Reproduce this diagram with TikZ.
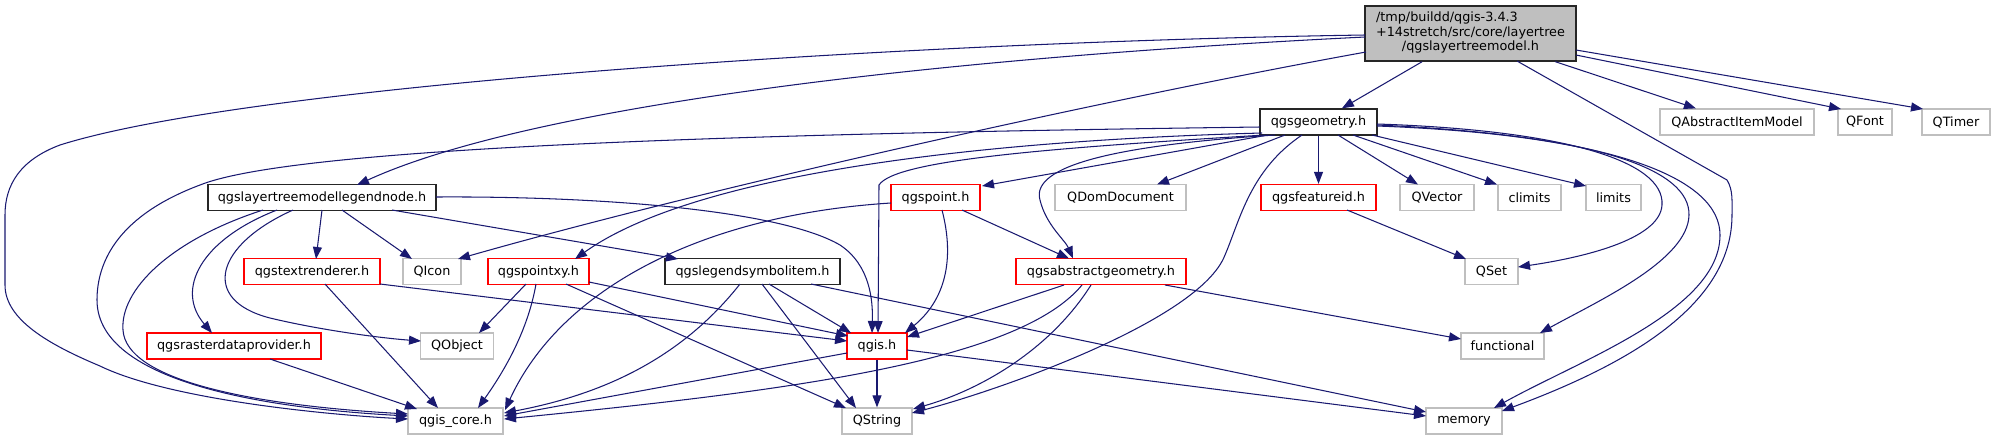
\documentclass[tikz,border=0pt]{standalone}
\usepackage{fontspec}
\setmainfont{DejaVu Sans}
\usetikzlibrary{arrows.meta}
\definecolor{edgeblue}{HTML}{191970}
\definecolor{greybox}{HTML}{BFBFBF}
\begin{document}
\begin{tikzpicture}[x=1pt,y=-1pt,
  box/.style={rectangle, draw, line width=1.3pt, minimum height=26pt, inner sep=0pt, fill=white,
              font=\fontsize{12.8}{14.5}\selectfont},
  gbox/.style={box, draw=greybox},
  rbox/.style={box, draw=red},
  blkbox/.style={box, draw=black!85},
  dep/.style={draw=edgeblue, line width=1.05pt, -{Triangle[length=12pt,width=9pt]}},
]
\useasboundingbox (0,0) rectangle (1995,440);

% row 0
\node[blkbox, fill=greybox, minimum width=211pt, minimum height=55pt] (root) at (1470.5,33.5)
  {\begin{tabular}{@{}l@{}}/tmp/buildd/qgis-3.4.3\\+14stretch/src/core/layertree\\\multicolumn{1}{@{}c@{}}{/qgslayertreemodel.h}\end{tabular}};
% row 1
\node[blkbox, minimum width=117pt] (geom) at (1318.5,122) {qgsgeometry.h};
\node[gbox, minimum width=154pt] (qaim) at (1737,122) {QAbstractItemModel};
\node[gbox, minimum width=54pt] (qfont) at (1865,122) {QFont};
\node[gbox, minimum width=68pt] (qtimer) at (1956,122) {QTimer};
% row 2
\node[blkbox, minimum width=228pt] (legend) at (322,197.5) {qgslayertreemodellegendnode.h};
\node[rbox, minimum width=89pt] (qpoint) at (935.5,197.5) {qgspoint.h};
\node[gbox, minimum width=131pt] (qdom) at (1120.5,197.5) {QDomDocument};
\node[rbox, minimum width=115pt] (featid) at (1318.5,197.5) {qgsfeatureid.h};
\node[gbox, minimum width=74pt] (qvector) at (1437,197.5) {QVector};
\node[gbox, minimum width=63pt] (climits) at (1529.5,197.5) {climits};
\node[gbox, minimum width=55pt] (limits) at (1613.5,197.5) {limits};
% row 3
\node[rbox, minimum width=136pt] (textr) at (312,271.5) {qgstextrenderer.h};
\node[gbox, minimum width=58pt] (qicon) at (432,271.5) {QIcon};
\node[rbox, minimum width=101pt] (pointxy) at (538.5,271.5) {qgspointxy.h};
\node[blkbox, minimum width=175pt] (legsym) at (752.5,271.5) {qgslegendsymbolitem.h};
\node[rbox, minimum width=170pt] (absgeom) at (1101,271.5) {qgsabstractgeometry.h};
\node[gbox, minimum width=53pt] (qset) at (1491.5,271.5) {QSet};
% row 4
\node[rbox, minimum width=174pt] (raster) at (234,346) {qgsrasterdataprovider.h};
\node[gbox, minimum width=73pt] (qobject) at (457,346) {QObject};
\node[rbox, minimum width=60pt] (qgish) at (877,346) {qgis.h};
\node[gbox, minimum width=83pt] (functional) at (1502.5,346) {functional};
% row 5
\node[gbox, minimum width=95pt] (qgiscore) at (455.5,421) {qgis\_core.h};
\node[gbox, minimum width=70pt] (qstring) at (877,421) {QString};
\node[gbox, minimum width=76pt] (memory) at (1464,421) {memory};

% root edges
\draw[dep] ([shift={(-105.5,1.5)}]root.center) .. controls (900,42) and (250,85) .. (60,145)
  .. controls (20,160) and (5,185) .. (5,215) -- (5,285)
  .. controls (5,320) and (50,345) .. (100,366)
  .. controls (170,400) and (330,415) .. ([shift={(-47.5,-2)}]qgiscore.center);
\draw[dep] ([shift={(-105.5,3.5)}]root.center) .. controls (900,60) and (520,110) .. ([shift={(35,-12.5)}]legend.center);
\draw[dep] ([shift={(-104.5,18.5)}]root.center) .. controls (1100,100) and (700,190) .. ([shift={(26,-12.5)}]qicon.center);
\draw[dep] (root) -- (geom);
\draw[dep] (root) -- (qaim);
\draw[dep] ([shift={(105.5,21.5)}]root.center) -- ([shift={(-24,-13)}]qfont.center);
\draw[dep] ([shift={(105.5,16.5)}]root.center) -- ([shift={(-33,-13)}]qtimer.center);
\draw[dep] ([shift={(46.5,27.5)}]root.center) -- (1727,180) .. controls (1733,190) and (1732,200) .. (1732,215)
  .. controls (1732,300) and (1640,360) .. ([shift={(38,-10)}]memory.center);

% qgsgeometry edges
\draw[dep] ([shift={(-58.5,5)}]geom.center) .. controls (800,133) and (300,145) .. (200,185)
  .. controls (120,215) and (97,260) .. (97,300)
  .. controls (97,390) and (300,410) .. ([shift={(-47.5,-5)}]qgiscore.center);
\draw[dep] ([shift={(-56.5,11)}]geom.center) .. controls (1000,140) and (700,170) .. ([shift={(36.5,-12.5)}]pointxy.center);
\draw[dep] ([shift={(-53.5,13)}]geom.center) .. controls (1050,148) and (895,160) .. (879,185) -- ([shift={(1,-13)}]qgish.center);
\draw[dep] ([shift={(-50.5,13)}]geom.center) -- ([shift={(46.5,-11.5)}]qpoint.center);
\draw[dep] ([shift={(-33.5,13)}]geom.center) -- ([shift={(36.5,-13)}]qdom.center);
\draw[dep] ([shift={(-43.5,13)}]geom.center) .. controls (1120,145) and (1030,165) .. (1040,200)
  .. controls (1046,225) and (1065,240) .. ([shift={(-28,-13)}]absgeom.center);
\draw[dep] ([shift={(-16.5,13)}]geom.center) .. controls (1250,170) and (1240,220) .. (1225,255)
  .. controls (1200,320) and (1000,390) .. ([shift={(35,-8)}]qstring.center);
\draw[dep] (geom) -- (featid);
\draw[dep] ([shift={(19.5,13)}]geom.center) -- ([shift={(-19,-13)}]qvector.center);
\draw[dep] ([shift={(34.5,13)}]geom.center) -- ([shift={(-32.5,-13)}]climits.center);
\draw[dep] ([shift={(53.5,13)}]geom.center) -- ([shift={(-27.5,-11.5)}]limits.center);
\draw[dep] ([shift={(58.5,2)}]geom.center) .. controls (1560,130) and (1665,160) .. (1662,205)
  .. controls (1660,240) and (1580,258) .. ([shift={(26.5,-4.5)}]qset.center);
\draw[dep] ([shift={(58.5,3)}]geom.center) .. controls (1600,135) and (1690,170) .. (1689,215)
  .. controls (1688,260) and (1600,300) .. ([shift={(37.5,-13)}]functional.center);
\draw[dep] ([shift={(58.5,4)}]geom.center) .. controls (1620,135) and (1720,180) .. (1720,235)
  .. controls (1720,310) and (1580,360) .. ([shift={(30,-13)}]memory.center);

% legend node edges
\draw[dep] ([shift={(-59,12.5)}]legend.center) .. controls (170,240) and (120,290) .. (123,330)
  .. controls (126,380) and (250,405) .. ([shift={(-47.5,-7)}]qgiscore.center);
\draw[dep] ([shift={(-45,12.5)}]legend.center) .. controls (200,240) and (175,290) .. ([shift={(-22,-13)}]raster.center);
\draw[dep] ([shift={(-29,12.5)}]legend.center) .. controls (215,245) and (200,300) .. (270,318)
  .. controls (320,330) and (380,338) .. ([shift={(-36,-5)}]qobject.center);
\draw[dep] ([shift={(0,12.5)}]legend.center) -- ([shift={(4,-12.5)}]textr.center);
\draw[dep] ([shift={(20,12.5)}]legend.center) -- ([shift={(-20,-12.5)}]qicon.center);
\draw[dep] ([shift={(70,12.5)}]legend.center) -- ([shift={(-74.5,-12.5)}]legsym.center);
\draw[dep] ([shift={(114,-0.5)}]legend.center) .. controls (600,196) and (780,210) .. (840,245)
  .. controls (870,265) and (873,300) .. ([shift={(-5,-13)}]qgish.center);

% text renderer, raster
\draw[dep] ([shift={(13,12.5)}]textr.center) -- ([shift={(-17.5,-13)}]qgiscore.center);
\draw[dep] ([shift={(68,12.5)}]textr.center) -- ([shift={(-30,-5)}]qgish.center);
\draw[dep] ([shift={(36,13)}]raster.center) -- ([shift={(-38.5,-12)}]qgiscore.center);

% pointxy
\draw[dep] ([shift={(-12.5,12.5)}]pointxy.center) -- ([shift={(22,-13)}]qobject.center);
\draw[dep] ([shift={(-2.5,12.5)}]pointxy.center) .. controls (528,330) and (505,370) .. ([shift={(22.5,-13)}]qgiscore.center);
\draw[dep] ([shift={(50.5,10.5)}]pointxy.center) -- ([shift={(-29,-10)}]qgish.center);
\draw[dep] ([shift={(27.5,12.5)}]pointxy.center) -- ([shift={(-31,-13)}]qstring.center);

% qgspoint
\draw[dep] ([shift={(-44.5,5.5)}]qpoint.center) .. controls (700,215) and (560,290) .. ([shift={(49.5,-11)}]qgiscore.center);
\draw[dep] ([shift={(6.5,12.5)}]qpoint.center) .. controls (955,260) and (945,300) .. ([shift={(28,-13)}]qgish.center);
\draw[dep] ([shift={(26.5,12.5)}]qpoint.center) -- ([shift={(-32,-13)}]absgeom.center);

% legend symbol item
\draw[dep] ([shift={(-12.5,12.5)}]legsym.center) .. controls (680,360) and (600,395) .. ([shift={(48.5,-8)}]qgiscore.center);
\draw[dep] ([shift={(16.5,12.5)}]legsym.center) -- ([shift={(-26,-13)}]qgish.center);
\draw[dep] ([shift={(9.5,12.5)}]legsym.center) -- ([shift={(-21,-13)}]qstring.center);
\draw[dep] ([shift={(58.5,12.5)}]legsym.center) -- ([shift={(-38,-9)}]memory.center);

% abstract geometry
\draw[dep] ([shift={(-37,13.5)}]absgeom.center) -- ([shift={(30,-9)}]qgish.center);
\draw[dep] ([shift={(-19,13.5)}]absgeom.center) .. controls (1020,360) and (800,390) .. ([shift={(48.5,-2)}]qgiscore.center);
\draw[dep] ([shift={(-10,13.5)}]absgeom.center) .. controls (1050,350) and (980,390) .. ([shift={(36,-12)}]qstring.center);
\draw[dep] ([shift={(64,13.5)}]absgeom.center) -- ([shift={(-41.5,-7)}]functional.center);

% feature id
\draw[dep] ([shift={(28.5,12.5)}]featid.center) -- ([shift={(-25.5,-12.5)}]qset.center);

% qgis.h
\draw[dep] (qgish) -- (qstring);
\draw[dep] ([shift={(-30,7)}]qgish.center) -- ([shift={(48.5,-5)}]qgiscore.center);
\draw[dep] ([shift={(30,4)}]qgish.center) -- ([shift={(-38,-5)}]memory.center);
\end{tikzpicture}
\end{document}
